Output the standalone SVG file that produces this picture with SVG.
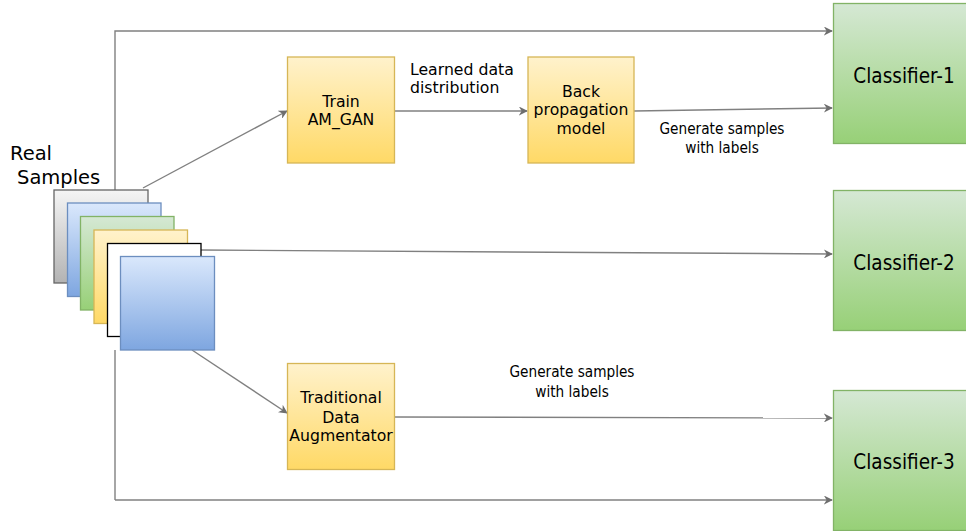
<svg xmlns="http://www.w3.org/2000/svg" width="966" height="531" viewBox="0 0 966 531">
  <defs>
    <linearGradient id="gYellow" x1="0" y1="0" x2="0" y2="1">
      <stop offset="0" stop-color="#fff2cc"/>
      <stop offset="1" stop-color="#ffd966"/>
    </linearGradient>
    <linearGradient id="gGreen" x1="0" y1="0" x2="0" y2="1">
      <stop offset="0" stop-color="#d5e8d4"/>
      <stop offset="1" stop-color="#97d077"/>
    </linearGradient>
    <linearGradient id="gBlue" x1="0" y1="0" x2="0" y2="1">
      <stop offset="0" stop-color="#dae8fc"/>
      <stop offset="1" stop-color="#7ea6e0"/>
    </linearGradient>
    <linearGradient id="gGray" x1="0" y1="0" x2="0" y2="1">
      <stop offset="0" stop-color="#f5f5f5"/>
      <stop offset="1" stop-color="#b3b3b3"/>
    </linearGradient>
    <marker id="arrow" viewBox="0 0 10 10" refX="9" refY="5" markerWidth="9" markerHeight="9" markerUnits="userSpaceOnUse" orient="auto">
      <path d="M0,0 L10,5 L0,10 L3,5 Z" fill="#6e6e6e"/>
    </marker>
  </defs>
  <style>
    .yellow { fill: url(#gYellow); stroke: #d6b656; stroke-width: 1.3; }
    .green { fill: url(#gGreen); stroke: #82b366; stroke-width: 1.3; }
    .blue { fill: url(#gBlue); stroke: #6c8ebf; stroke-width: 1.3; }
    .gray { fill: url(#gGray); stroke: #666666; stroke-width: 1.3; }
    .plain { fill: #ffffff; stroke: #000000; stroke-width: 1.3; }
    .edge { fill: none; stroke: #808080; stroke-width: 1.4; marker-end: url(#arrow); }
    .line { fill: none; stroke: #808080; stroke-width: 1.4; }
    text { fill: #000000; }
    .t16 { font-family: "DejaVu Sans", Verdana, sans-serif; font-size: 15.7px; text-anchor: middle; }
    .lbl { font-family: "DejaVu Sans", Verdana, sans-serif; font-size: 15.7px; }
    .cls { font-family: "DejaVu Sans Condensed", "DejaVu Sans", sans-serif; font-stretch: condensed; font-size: 20.5px; text-anchor: middle; }
    .gen { font-family: "DejaVu Sans Condensed", "DejaVu Sans", sans-serif; font-stretch: condensed; font-size: 15.2px; text-anchor: middle; }
    .real { font-family: "DejaVu Sans", Verdana, sans-serif; font-size: 19.5px; }
  </style>

  <!-- connectors -->
  <g id="connectors">
    <polyline class="edge" points="115,190 115,31 832,31"/>
    <polyline class="line" points="115,350 115,500"/>
    <polyline class="edge" points="115,500 832,500"/>
    <line class="edge" x1="143" y1="188" x2="287" y2="111"/>
    <line class="edge" x1="394" y1="111" x2="527" y2="111"/>
    <line class="edge" x1="634" y1="111" x2="832" y2="108"/>
    <line class="edge" x1="201" y1="250" x2="832" y2="254"/>
    <line class="edge" x1="192" y1="350" x2="287" y2="413"/>
    <line class="edge" x1="394" y1="417" x2="832" y2="418"/>
  </g>

  <!-- stack of real sample images -->
  <g id="real-samples">
    <text class="real" x="10" y="160">Real</text>
    <text class="real" x="17" y="184">Samples</text>
    <rect class="gray" x="54" y="190" width="94" height="93"/>
    <rect class="blue" x="67.5" y="203" width="93.5" height="93.5"/>
    <rect class="green" x="80.5" y="216.5" width="93.5" height="93.5"/>
    <rect class="yellow" x="94" y="230" width="93.5" height="93.5"/>
    <rect class="plain" x="107.5" y="243.5" width="93.5" height="93"/>
    <rect class="blue" x="120.5" y="256.5" width="94" height="93.5"/>
  </g>

  <g id="train-am-gan">
    <rect class="yellow" x="287.5" y="57" width="107" height="106"/>
    <text class="t16" x="341" y="107">Train</text>
    <text class="t16" x="341" y="125">AM_GAN</text>
  </g>

  <g id="back-propagation">
    <rect class="yellow" x="528" y="57" width="106" height="106"/>
    <text class="t16" x="581" y="97">Back</text>
    <text class="t16" x="581" y="115">propagation</text>
    <text class="t16" x="581" y="134">model</text>
  </g>

  <g id="traditional-augmentator">
    <rect class="yellow" x="287.5" y="363.5" width="107" height="106"/>
    <text class="t16" x="341" y="403">Traditional</text>
    <text class="t16" x="341" y="423">Data</text>
    <text class="t16" x="341" y="441">Augmentator</text>
  </g>

  <g id="classifier-1">
    <rect class="green" x="833.5" y="3.5" width="140" height="140"/>
    <text class="cls" x="904" y="83">Classifier-1</text>
  </g>
  <g id="classifier-2">
    <rect class="green" x="833.5" y="190.5" width="140" height="140"/>
    <text class="cls" x="904" y="270">Classifier-2</text>
  </g>
  <g id="classifier-3">
    <rect class="green" x="833.5" y="390.5" width="140" height="140"/>
    <text class="cls" x="904" y="469">Classifier-3</text>
  </g>

  <!-- edge labels -->
  <g id="labels">
    <text class="lbl" x="410" y="75">Learned data</text>
    <text class="lbl" x="410" y="93">distribution</text>
    <text class="gen" x="722" y="134">Generate samples</text>
    <text class="gen" x="722" y="153">with labels</text>
    <text class="gen" x="572" y="377">Generate samples</text>
    <text class="gen" x="572" y="397">with labels</text>
  </g>
</svg>
